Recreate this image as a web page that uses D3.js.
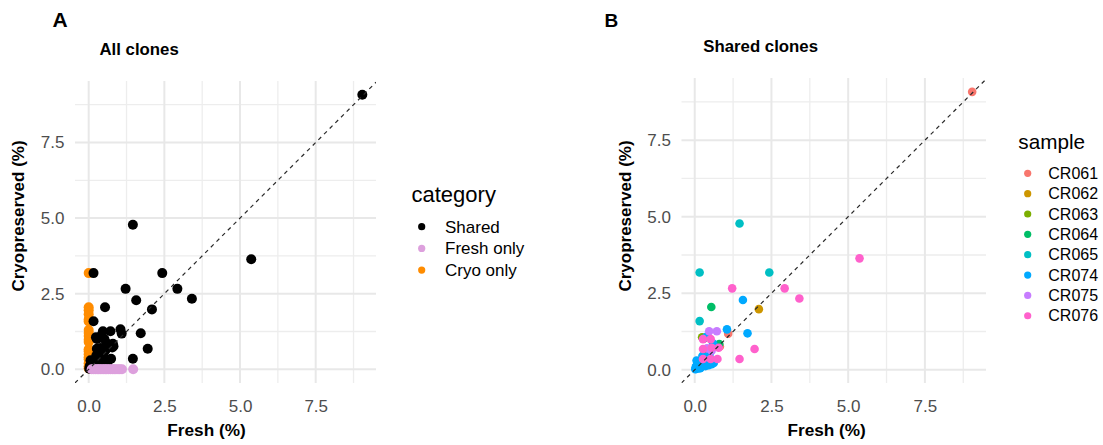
<!DOCTYPE html>
<html>
<head>
<meta charset="utf-8">
<script src="https://cdn.jsdelivr.net/npm/d3@7"></script>
<style>
  html, body { margin: 0; padding: 0; background: #ffffff; }
  svg { display: block; font-family: "Liberation Sans", Arial, Helvetica, sans-serif; }
</style>
</head>
<body>
<svg id="fig" width="1103" height="445"></svg>
<script>
// ---- data -------------------------------------------------------------
// Shared clones: frequency (%) in fresh and cryopreserved samples
const sharedFresh = [
  9.04, 1.09, 0.82,                                   // CR061
  2.09,                                               // CR062
  0.24, 0.45,                                         // CR063
  0.54, 0.30, 0.80,                                   // CR064
  1.46, 0.16, 2.43, 0.16, 0.10,                       // CR065
  1.57, 1.05, 1.72, 0.38, 0.60, 0.48, 0.58, 0.40, 0.30, 0.22, 0.18, 0.15,
  0.10, 0.08, 0.05, 0.04, 0.02, 0.12, 0.20, 0.28, 0.35, 0.06, 0.25, 0.45,
  0.62, 0.50, 0.35, 0.42, 0.25, 0.15, 0.08, 0.03, 0.18, 0.32, 0.55, 0.12, // CR074
  0.47, 0.72, 0.55, 0.40,                             // CR075
  5.37, 2.93, 3.41, 1.22, 1.95, 1.46, 0.27, 0.52, 0.27, 0.55, 0.78, 0.27,
  0.52, 0.74                                          // CR076
];
const sharedCryo = [
  9.08, 1.18, 0.76,
  1.98,
  1.06, 0.58,
  2.05, 1.02, 0.84,
  4.78, 3.18, 3.18, 1.59, 0.14,
  2.28, 1.32, 1.19, 1.08, 0.86, 0.50, 0.30, 0.22, 0.32, 0.18, 0.28, 0.10,
  0.20, 0.06, 0.12, 0.03, 0.02, 0.04, 0.08, 0.14, 0.40, 0.30, 0.45, 0.15,
  0.22, 0.25, 0.12, 0.30, 0.25, 0.18, 0.14, 0.08, 0.05, 0.20, 0.18, 0.26,
  1.26, 1.26, 0.62, 0.70,
  3.64, 2.66, 2.33, 2.66, 0.68, 0.35, 1.00, 1.00, 0.68, 0.72, 0.72, 0.35,
  0.35, 0.35
];
const sharedSample = [
  "CR061", "CR061", "CR061",
  "CR062",
  "CR063", "CR063",
  "CR064", "CR064", "CR064",
  "CR065", "CR065", "CR065", "CR065", "CR065",
  "CR074", "CR074", "CR074", "CR074", "CR074", "CR074", "CR074", "CR074",
  "CR074", "CR074", "CR074", "CR074", "CR074", "CR074", "CR074", "CR074",
  "CR074", "CR074", "CR074", "CR074", "CR074", "CR074", "CR074", "CR074",
  "CR074", "CR074", "CR074", "CR074", "CR074", "CR074", "CR074", "CR074",
  "CR074", "CR074", "CR074", "CR074",
  "CR075", "CR075", "CR075", "CR075",
  "CR076", "CR076", "CR076", "CR076", "CR076", "CR076", "CR076", "CR076",
  "CR076", "CR076", "CR076", "CR076", "CR076", "CR076"
];

// Clones found in only one of the two preparations
const freshOnlyFresh = [0.10, 0.16, 0.22, 0.28, 0.33, 0.38, 0.44, 0.50, 0.55, 0.60,
                        0.66, 0.72, 0.78, 0.84, 0.90, 0.97, 1.03, 1.10, 1.47];
const freshOnlyCryo  = [0, 0, 0, 0, 0, 0, 0, 0, 0, 0, 0, 0, 0, 0, 0, 0, 0, 0, 0];
const cryoOnlyFresh  = [0, 0, 0, 0, 0, 0, 0, 0, 0, 0, 0, 0, 0, 0, 0, 0, 0, 0, 0];
const cryoOnlyCryo   = [3.18, 2.05, 1.95, 1.82, 1.65, 1.58, 1.30, 1.20, 1.10, 0.98,
                        0.90, 0.66, 0.60, 0.50, 0.40, 0.33, 0.20, 0.10, 0.03];

const categoryNames  = ["Shared", "Fresh only", "Cryo only"];
const sampleNames    = ["CR061", "CR062", "CR063", "CR064", "CR065", "CR074", "CR075", "CR076"];
const axisTicks      = [0, 2.5, 5, 7.5];
const minorTicks     = [1.25, 3.75, 6.25, 8.75];

// ---- palettes --------------------------------------------------------
const categoryColors = ["#000000", "#DDA0DD", "#FF8C00"];
const sampleColors   = ["#F8766D", "#CD9600", "#7CAE00", "#00BE67", "#00BFC4", "#00A9FF", "#C77CFF", "#FF61CC"];

// ---- helpers ---------------------------------------------------------
const svg = d3.select("#fig");
svg.append("rect").attr("width", 1103).attr("height", 445).attr("fill", "#fff");
const fmt = d3.format(".1f");

function expanded(vals) {
  const [lo, hi] = d3.extent(vals);
  const pad = (hi - lo) * 0.05;
  return [lo - pad, hi + pad];
}

function drawPanel(cfg) {
  const x = d3.scaleLinear().domain(expanded(cfg.xs)).range([cfg.left, cfg.right]);
  const y = d3.scaleLinear().domain(expanded(cfg.ys)).range([cfg.bottom, cfg.top]);
  const g = svg.append("g");

  const clipId = "clip-" + cfg.id;
  g.append("clipPath").attr("id", clipId).append("rect")
    .attr("x", cfg.left).attr("y", cfg.top)
    .attr("width", cfg.right - cfg.left).attr("height", cfg.bottom - cfg.top);

  // minor grid
  const grid = g.append("g");
  grid.selectAll(".vmin").data(minorTicks.filter(t => t <= x.domain()[1])).join("line")
    .attr("x1", d => x(d)).attr("x2", d => x(d)).attr("y1", cfg.top).attr("y2", cfg.bottom)
    .attr("stroke", "#ededed").attr("stroke-width", 1.3);
  grid.selectAll(".hmin").data(minorTicks.filter(t => t <= y.domain()[1])).join("line")
    .attr("y1", d => y(d)).attr("y2", d => y(d)).attr("x1", cfg.left).attr("x2", cfg.right)
    .attr("stroke", "#ededed").attr("stroke-width", 1.3);
  // major grid
  grid.selectAll(".vmaj").data(axisTicks).join("line")
    .attr("x1", d => x(d)).attr("x2", d => x(d)).attr("y1", cfg.top).attr("y2", cfg.bottom)
    .attr("stroke", "#e8e8e8").attr("stroke-width", 2);
  grid.selectAll(".hmaj").data(axisTicks).join("line")
    .attr("y1", d => y(d)).attr("y2", d => y(d)).attr("x1", cfg.left).attr("x2", cfg.right)
    .attr("stroke", "#e8e8e8").attr("stroke-width", 2);

  // tick labels via d3 axes (no domain / tick marks)
  const xAxis = g.append("g").attr("transform", `translate(0,${cfg.bottom})`)
    .call(d3.axisBottom(x).tickValues(axisTicks).tickFormat(fmt).tickSize(0).tickPadding(17));
  const yAxis = g.append("g").attr("transform", `translate(${cfg.left},0)`)
    .call(d3.axisLeft(y).tickValues(axisTicks).tickFormat(fmt).tickSize(0).tickPadding(10.5));
  [xAxis, yAxis].forEach(a => {
    a.select(".domain").remove();
    a.selectAll("text").attr("fill", "#4d4d4d").attr("font-size", "17px")
      .attr("font-family", "Liberation Sans, Arial, sans-serif");
  });

  // points
  const pts = g.append("g").attr("clip-path", `url(#${clipId})`);
  cfg.layers.forEach(layer => {
    pts.append("g").selectAll("circle").data(layer.data).join("circle")
      .attr("cx", d => x(d.fresh)).attr("cy", d => y(d.cryo))
      .attr("r", cfg.radius).attr("fill", d => layer.color(d));
  });

  // identity line
  const lo = Math.max(x.domain()[0], y.domain()[0]);
  const hi = Math.min(x.domain()[1], y.domain()[1]);
  g.append("line").attr("clip-path", `url(#${clipId})`)
    .attr("x1", x(lo)).attr("y1", y(lo)).attr("x2", x(hi)).attr("y2", y(hi))
    .attr("stroke", "#2a2a2a").attr("stroke-width", 1.2).attr("stroke-dasharray", "4,4");

  // titles
  g.append("text").attr("x", cfg.tagX).attr("y", 26.7).attr("font-weight", "bold")
    .attr("font-size", cfg.tagSize + "px").attr("fill", "#000").text(cfg.tag);
  g.append("text").attr("x", cfg.titleX).attr("y", cfg.titleY).attr("font-weight", "bold")
    .attr("font-size", "16.8px").attr("fill", "#000").text(cfg.title);
  g.append("text").attr("x", cfg.xTitleX).attr("y", 436).attr("text-anchor", "middle")
    .attr("font-weight", "bold").attr("font-size", "17.2px").attr("fill", "#000").text("Fresh (%)");
  g.append("text").attr("transform", `translate(${cfg.left - 51},216) rotate(-90)`)
    .attr("text-anchor", "middle").attr("font-weight", "bold").attr("font-size", "17px")
    .attr("fill", "#000").text("Cryopreserved (%)");

  // legend
  const lg = g.append("g");
  lg.append("text").attr("x", cfg.legend.x).attr("y", cfg.legend.titleY)
    .attr("font-size", cfg.legend.titleSize + "px").attr("fill", "#000").text(cfg.legend.title);
  const items = lg.selectAll("g.item").data(cfg.legend.names).join("g")
    .attr("transform", (d, i) => `translate(0,${cfg.legend.y0 + i * cfg.legend.step})`);
  items.append("circle").attr("cx", cfg.legend.dotX).attr("cy", 0).attr("r", 3.6)
    .attr("fill", (d, i) => cfg.legend.colors[i]);
  items.append("text").attr("x", cfg.legend.textX).attr("y", 0).attr("dy", "0.35em")
    .attr("font-size", cfg.legend.textSize + "px").attr("fill", "#000").text(d => d);
}

// ---- assemble records ------------------------------------------------
const shared = sharedFresh.map((f, i) => ({ fresh: f, cryo: sharedCryo[i], sample: sharedSample[i] }));
const freshOnly = freshOnlyFresh.map((f, i) => ({ fresh: f, cryo: freshOnlyCryo[i] }));
const cryoOnly = cryoOnlyFresh.map((f, i) => ({ fresh: f, cryo: cryoOnlyCryo[i] }));
const sampleColor = d3.scaleOrdinal().domain(sampleNames).range(sampleColors);

// Panel A: all clones coloured by category
drawPanel({
  id: "a", left: 75, right: 376, top: 81, bottom: 383, radius: 5,
  xs: [...sharedFresh, ...freshOnlyFresh, ...cryoOnlyFresh],
  ys: [...sharedCryo, ...freshOnlyCryo, ...cryoOnlyCryo],
  layers: [
    { data: cryoOnly, color: () => categoryColors[2] },
    { data: shared, color: () => categoryColors[0] },
    { data: freshOnly, color: () => categoryColors[1] }
  ],
  tag: "A", tagX: 52.5, tagSize: 21,
  title: "All clones", titleX: 99.5, titleY: 55,
  xTitleX: 206.5,
  legend: { title: "category", x: 411.5, titleY: 202, titleSize: 22,
            names: categoryNames, colors: categoryColors,
            y0: 226.7, step: 21.7, dotX: 421.7, textX: 445, textSize: 17 }
});

// Panel B: shared clones coloured by sample
drawPanel({
  id: "b", left: 681.5, right: 986, top: 78, bottom: 383, radius: 4.3,
  xs: sharedFresh, ys: sharedCryo,
  layers: sampleNames.map(s => ({ data: shared.filter(d => d.sample === s), color: d => sampleColor(d.sample) })),
  tag: "B", tagX: 604.5, tagSize: 19,
  title: "Shared clones", titleX: 703.3, titleY: 51.5,
  xTitleX: 826.7,
  legend: { title: "sample", x: 1018.3, titleY: 149, titleSize: 20.7,
            names: sampleNames, colors: sampleColors,
            y0: 173.3, step: 20.35, dotX: 1027.7, textX: 1048.3, textSize: 16 }
});
</script>
</body>
</html>
